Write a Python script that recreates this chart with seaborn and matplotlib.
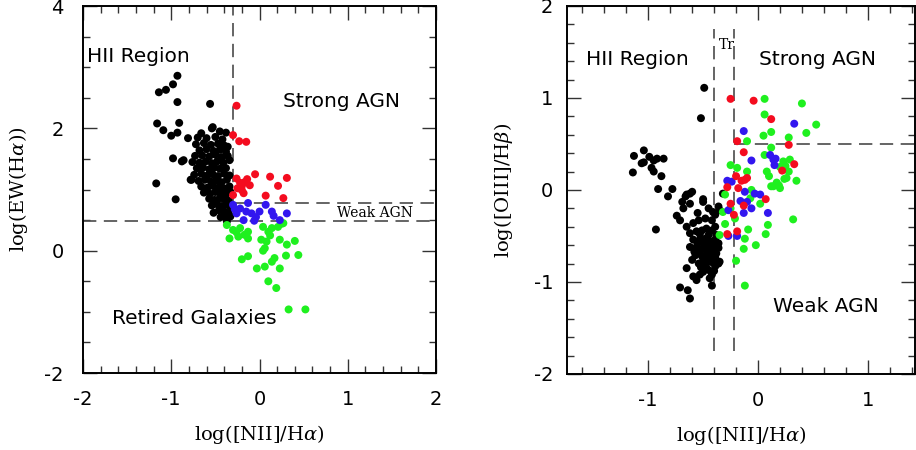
import matplotlib
matplotlib.use("Agg")
import matplotlib.pyplot as plt
from matplotlib.ticker import MultipleLocator
import pandas as pd
import seaborn as sns

# ---------------- WHAN diagram: log[NII]/Ha vs log EW(Ha) ----------------
whan_black_x = [-0.93, -0.98, -1.06, -1.14, -0.93, -0.56, -1.16, -1.09, -0.91, -1.00,
                -0.93, -0.81, -0.98, -0.88, -0.86, -1.17, -0.77, -0.34, -0.95, -0.53,
                -0.66, -0.54, -0.45, -0.38, -0.70, -0.60, -0.50, -0.42,
                -0.72, -0.63, -0.55, -0.47, -0.40, -0.36, -0.68, -0.60, -0.52, -0.45, -0.38,
                -0.73, -0.65, -0.57, -0.50, -0.43, -0.36, -0.76, -0.68, -0.61, -0.54, -0.48,
                -0.41, -0.71, -0.64, -0.57, -0.51, -0.45, -0.38, -0.74, -0.66, -0.59, -0.53,
                -0.47, -0.40, -0.34, -0.78, -0.69, -0.62, -0.55, -0.49, -0.43, -0.37,
                -0.66, -0.59, -0.53, -0.46, -0.40, -0.34, -0.63, -0.56, -0.50, -0.44, -0.38,
                -0.33, -0.57, -0.51, -0.45, -0.40, -0.35, -0.54, -0.48, -0.43, -0.37, -0.33,
                -0.52, -0.46, -0.40, -0.35, -0.44, -0.38, -0.33, -0.37]
whan_black_y = [2.86, 2.72, 2.63, 2.59, 2.43, 2.40, 2.08, 1.97, 2.09, 1.88,
                1.93, 1.84, 1.51, 1.46, 1.48, 1.10, 1.16, 1.48, 0.84, 2.02,
                1.92, 2.00, 1.95, 1.93, 1.85, 1.84, 1.86, 1.82,
                1.74, 1.76, 1.73, 1.75, 1.72, 1.70, 1.64, 1.66, 1.63, 1.65, 1.62,
                1.55, 1.56, 1.54, 1.57, 1.53, 1.55, 1.45, 1.44, 1.46, 1.43, 1.46,
                1.44, 1.35, 1.36, 1.33, 1.36, 1.34, 1.35, 1.24, 1.26, 1.23, 1.25,
                1.22, 1.26, 1.23, 1.16, 1.14, 1.16, 1.13, 1.15, 1.12, 1.16,
                1.05, 1.03, 1.06, 1.04, 1.02, 1.05, 0.95, 0.93, 0.96, 0.94, 0.92,
                0.96, 0.85, 0.83, 0.86, 0.84, 0.82, 0.74, 0.76, 0.73, 0.75, 0.72,
                0.62, 0.66, 0.64, 0.62, 0.55, 0.53, 0.56, 0.48]
whan_red_x = [-0.26, -0.30, -0.23, -0.15, -0.26, -0.14, -0.05, 0.12, 0.31, 0.21,
              -0.20, -0.22, -0.11, -0.20, -0.30, -0.18, 0.07, 0.27, -0.25, -0.17]
whan_red_y = [2.37, 1.89, 1.79, 1.78, 1.18, 1.17, 1.25, 1.21, 1.19, 1.06,
              1.06, 1.11, 1.07, 0.99, 0.91, 0.94, 0.90, 0.86, 1.02, 1.12]
whan_blue_x = [-0.30, -0.22, -0.13, -0.15, -0.09, 0.00, 0.07, 0.14, 0.16, 0.31,
               -0.18, -0.06, -0.26, 0.23, -0.28, -0.04]
whan_blue_y = [0.75, 0.69, 0.78, 0.64, 0.61, 0.64, 0.75, 0.64, 0.57, 0.61,
               0.50, 0.49, 0.61, 0.50, 0.68, 0.55]
whan_green_x = [-0.37, -0.30, -0.34, -0.22, -0.17, -0.13, -0.24, -0.13, 0.04, 0.10,
                0.21, 0.27, 0.02, 0.08, 0.23, 0.06, 0.31, 0.40, 0.30, 0.44,
                -0.20, -0.13, -0.03, 0.06, 0.14, 0.17, 0.23, 0.10, 0.19, 0.33,
                0.52, 0.14, 0.25, 0.04, -0.26, 0.12]
whan_green_y = [0.42, 0.34, 0.20, 0.37, 0.26, 0.31, 0.23, 0.20, 0.39, 0.31,
                0.39, 0.45, 0.18, 0.15, 0.18, 0.04, 0.10, 0.16, -0.08, -0.07,
                -0.14, -0.09, -0.29, -0.26, -0.18, -0.12, -0.29, -0.50, -0.61, -0.96,
                -0.96, 0.37, 0.44, 0.00, 0.30, 0.25]

# ---------------- BPT diagram: log[NII]/Ha vs log[OIII]/Hb ----------------
bpt_black_x = [-0.49, -0.52, -1.04, -1.13, -1.06, -1.14, -0.95, -0.92, -0.86, -0.97,
               -0.95, -0.88, -1.04, -0.99, -0.91, -0.78, -0.82, -0.66, -0.62, -0.69,
               -0.65, -0.60, -0.62, -0.50, -0.50, -0.32, -0.68, -0.93, -0.74, -0.71,
               -0.65, -0.59, -0.54, -0.48, -0.41, -0.42, -0.35, -0.39, -0.36, -0.45,
               -0.55, -0.62, -0.56, -0.51, -0.47, -0.42, -0.39, -0.38, -0.59, -0.53,
               -0.48, -0.44, -0.39, -0.36, -0.62, -0.56, -0.50, -0.45, -0.41, -0.36,
               -0.57, -0.51, -0.47, -0.42, -0.38, -0.54, -0.48, -0.44, -0.39, -0.36,
               -0.50, -0.45, -0.42, -0.59, -0.53, -0.45, -0.41, -0.49, -0.55, -0.53,
               -0.47, -0.43, -0.39, -0.50, -0.45, -0.41, -0.47, -0.52, -0.40, -0.44,
               -0.38, -0.58, -0.65, -0.71, -0.64, -0.62, -0.56, -0.42, -0.35, -0.53,
               -0.60]
bpt_black_y = [1.11, 0.78, 0.43, 0.37, 0.29, 0.19, 0.32, 0.34, 0.34, 0.24,
               0.20, 0.15, 0.30, 0.36, 0.01, 0.01, -0.07, -0.07, -0.04, -0.13,
               -0.05, -0.02, -0.15, -0.13, -0.10, -0.04, -0.20, -0.43, -0.28, -0.33,
               -0.40, -0.36, -0.33, -0.31, -0.24, -0.33, -0.22, -0.27, -0.18, -0.20,
               -0.25, -0.47, -0.45, -0.44, -0.42, -0.44, -0.40, -0.49, -0.54, -0.54,
               -0.53, -0.56, -0.54, -0.58, -0.62, -0.62, -0.63, -0.62, -0.65, -0.63,
               -0.71, -0.72, -0.71, -0.74, -0.69, -0.80, -0.82, -0.78, -0.83, -0.80,
               -0.89, -0.87, -0.92, -0.94, -0.48, -0.49, -0.58, -0.58, -0.58, -0.66,
               -0.66, -0.69, -0.73, -0.77, -0.75, -0.79, -0.85, -0.84, -0.88, -0.96,
               -0.60, -0.67, -0.85, -1.06, -1.09, -1.18, -0.98, -1.04, -0.78, -0.92,
               -0.76]
bpt_red_x = [-0.25, -0.04, 0.12, -0.19, 0.28, -0.13, 0.33, 0.22, -0.10, -0.15,
             -0.20, -0.28, -0.18, 0.07, -0.25, -0.13, -0.22, -0.28, -0.19, -0.12]
bpt_red_y = [0.99, 0.97, 0.77, 0.53, 0.49, 0.41, 0.28, 0.21, 0.13, 0.10,
             0.15, 0.03, 0.02, -0.10, -0.15, -0.17, -0.27, -0.48, -0.45, 0.11]
bpt_blue_x = [0.33, -0.13, -0.06, 0.11, 0.16, 0.15, -0.28, -0.24, -0.12, -0.03,
              0.02, -0.16, -0.27, -0.13, -0.06, 0.09, -0.19, -0.27, 0.14, -0.10]
bpt_blue_y = [0.72, 0.64, 0.32, 0.38, 0.34, 0.27, 0.10, 0.09, -0.02, -0.04,
              -0.05, -0.12, -0.22, -0.25, -0.20, -0.25, -0.50, -0.50, 0.33, -0.13]
bpt_green_x = [0.06, 0.40, 0.06, 0.53, 0.44, 0.12, 0.05, 0.28, -0.10, 0.12,
               0.06, 0.29, 0.25, 0.23, -0.25, -0.19, -0.10, 0.08, 0.20, 0.26,
               0.35, 0.14, 0.19, 0.12, 0.20, 0.24, 0.28, -0.06, -0.30, -0.07,
               0.02, -0.32, -0.25, -0.30, -0.21, 0.09, -0.09, 0.07, -0.35, -0.12,
               -0.02, -0.13, -0.20, 0.32, -0.12, 0.17, 0.10]
bpt_green_y = [0.99, 0.94, 0.82, 0.71, 0.62, 0.63, 0.59, 0.57, 0.53, 0.46,
               0.38, 0.33, 0.26, 0.31, 0.27, 0.24, 0.20, 0.20, 0.25, 0.13,
               0.10, 0.04, 0.05, 0.04, 0.02, 0.12, 0.20, 0.00, -0.05, -0.09,
               -0.15, -0.24, -0.20, -0.37, -0.31, -0.38, -0.43, -0.48, -0.49, -0.53,
               -0.60, -0.64, -0.77, -0.32, -1.04, 0.08, 0.15]

# Dividing lines
ew_weak = 0.48      # log EW(Ha) = log 3
ew_strong = 0.78    # log EW(Ha) = log 6
nii_whan = -0.3
nii_sf = -0.4
nii_agn = -0.22
oiii_cut = 0.5

palette = {"sf": "#000000", "retired": "#1ff01f", "weak": "#3216ef", "strong": "#f40c1f"}


def frame(xs, ys, groups):
    rows = []
    for cls, x, y in zip(groups, xs, ys):
        rows += [{"cls": cls, "x": a, "y": b} for a, b in zip(x, y)]
    return pd.DataFrame(rows)


whan = frame([whan_black_x, whan_green_x, whan_blue_x, whan_red_x],
             [whan_black_y, whan_green_y, whan_blue_y, whan_red_y],
             ["sf", "retired", "weak", "strong"])
bpt = frame([bpt_black_x, bpt_green_x, bpt_blue_x, bpt_red_x],
            [bpt_black_y, bpt_green_y, bpt_blue_y, bpt_red_y],
            ["sf", "retired", "weak", "strong"])

sns.set_style("ticks")
plt.rcParams["font.family"] = ["DejaVu Sans"]
plt.rcParams["mathtext.fontset"] = "dejavuserif"
plt.rcParams["text.color"] = "black"
plt.rcParams["axes.labelcolor"] = "black"
plt.rcParams["xtick.color"] = "black"
plt.rcParams["ytick.color"] = "black"

fig = plt.figure(figsize=(9.16, 4.5), dpi=100)
ax1 = fig.add_axes([0.0906, 0.171, 0.3854, 0.8156])
ax2 = fig.add_axes([0.619, 0.169, 0.3799, 0.8178])

dash = dict(color="#4a4a4a", lw=1.2, ls=(0, (8, 4.5)), zorder=1)
dot = 33

# ---- WHAN panel ----
sns.scatterplot(data=whan, x="x", y="y", hue="cls", palette=palette, s=dot,
                linewidth=0, legend=False, ax=ax1, zorder=3)
ax1.plot([nii_whan, nii_whan], [ew_strong, 4], **dash)
ax1.plot([nii_whan, 2], [ew_strong, ew_strong], **dash)
ax1.plot([-2, 2], [ew_weak, ew_weak], **dash)
ax1.set_xlim(-2, 2)
ax1.set_ylim(-2, 4)
ax1.xaxis.set_major_locator(MultipleLocator(1))
ax1.xaxis.set_minor_locator(MultipleLocator(0.2))
ax1.yaxis.set_major_locator(MultipleLocator(2))
ax1.yaxis.set_minor_locator(MultipleLocator(0.5))
ax1.text(-1.955, 3.09, "HII Region", fontsize=14.5)
ax1.text(0.27, 2.345, "Strong AGN", fontsize=14.5)
ax1.text(-1.675, -1.196, "Retired Galaxies", fontsize=14.5)
ax1.text(0.873, 0.547, "Weak AGN", fontsize=10, family="DejaVu Serif")
ax1.set_xlabel("log([NII]/H$\\alpha$)", fontsize=14, family="DejaVu Serif")
ax1.set_ylabel("log(EW(H$\\alpha$))", fontsize=14, family="DejaVu Serif")
ax1.yaxis.set_label_coords(-0.15, 0.5)
ax1.xaxis.set_label_coords(0.5, -0.135)

# ---- BPT panel ----
sns.scatterplot(data=bpt, x="x", y="y", hue="cls", palette=palette, s=dot,
                linewidth=0, legend=False, ax=ax2, zorder=3)
ax2.plot([nii_sf, nii_sf], [-1.75, 1.75], **dash)
ax2.plot([nii_agn, nii_agn], [-1.75, 1.75], **dash)
ax2.plot([nii_agn, 1.43], [oiii_cut, oiii_cut], **dash)
ax2.set_xlim(-1.74, 1.43)
ax2.set_ylim(-2, 2)
ax2.xaxis.set_major_locator(MultipleLocator(1))
ax2.xaxis.set_minor_locator(MultipleLocator(0.2))
ax2.yaxis.set_major_locator(MultipleLocator(1))
ax2.yaxis.set_minor_locator(MultipleLocator(0.2))
ax2.text(-1.564, 1.359, "HII Region", fontsize=14.5)
ax2.text(0.012, 1.359, "Strong AGN", fontsize=14.5)
ax2.text(0.134, -1.322, "Weak AGN", fontsize=14.5)
ax2.text(-0.36, 1.53, "Tr", fontsize=10, family="DejaVu Serif")
ax2.set_xlabel("log([NII]/H$\\alpha$)", fontsize=14, family="DejaVu Serif")
ax2.set_ylabel("log([OIII]/H$\\beta$)", fontsize=14, family="DejaVu Serif")
ax2.yaxis.set_label_coords(-0.15, 0.5)
ax2.xaxis.set_label_coords(0.5, -0.135)

for ax, ypad in ((ax1, 14), (ax2, 10)):
    for side in ax.spines.values():
        side.set_linewidth(1.4)
        side.set_color("black")
    ax.tick_params(which="both", direction="in", top=True, right=True,
                   color="#333333", width=1.0)
    ax.tick_params(which="major", length=10, labelsize=14)
    ax.tick_params(which="minor", length=5)
    ax.tick_params(axis="x", which="major", pad=12)
    ax.tick_params(axis="y", which="major", pad=ypad)

ax1.set_xticks([-2, -1, 0, 1, 2])
ax1.set_xticklabels(["-2", "-1", "0", "1", "2"])
ax1.set_yticks([-2, 0, 2, 4])
ax1.set_yticklabels(["-2", "0", "2", "4"])
ax2.set_xticks([-1, 0, 1])
ax2.set_xticklabels(["-1", "0", "1"])
ax2.set_yticks([-2, -1, 0, 1, 2])
ax2.set_yticklabels(["-2", "-1", "0", "1", "2"])

fig.savefig("out.png", dpi=100)
